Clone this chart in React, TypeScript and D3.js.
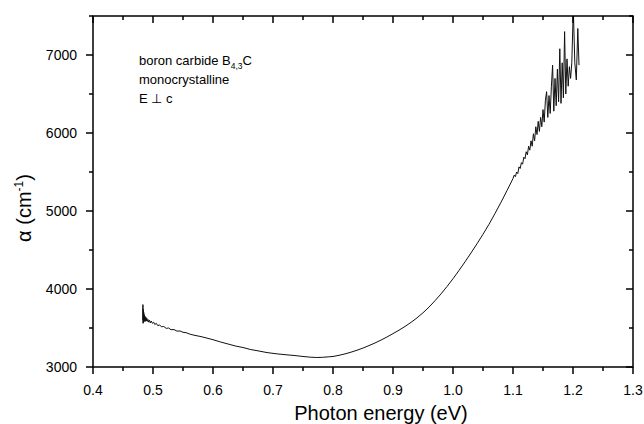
import React from "react";
import * as d3 from "d3";

// Photon energy (eV) and absorption coefficient alpha (cm^-1)
const energyEv = [
  0.483, 0.4832, 0.4835, 0.4838, 0.4842, 0.4846, 0.485, 0.4855, 0.486, 0.4866,
  0.4872, 0.488, 0.4888, 0.4896, 0.4905, 0.4915, 0.4925, 0.494, 0.4955, 0.497,
  0.499, 0.501, 0.503, 0.5055, 0.508, 0.511, 0.514, 0.518, 0.522, 0.526,
  0.53, 0.535, 0.54, 0.545, 0.55, 0.555, 0.562, 0.57, 0.58, 0.59,
  0.6, 0.612, 0.625, 0.638, 0.65, 0.662, 0.675, 0.69, 0.705, 0.72,
  0.735, 0.75, 0.762, 0.772, 0.782, 0.792, 0.8, 0.81, 0.82, 0.83,
  0.84, 0.85, 0.86, 0.87, 0.88, 0.89, 0.9, 0.91, 0.92, 0.93,
  0.94, 0.95, 0.96, 0.97, 0.98, 0.99, 1.0, 1.01, 1.02, 1.03,
  1.04, 1.05, 1.06, 1.07, 1.08, 1.09,
  1.1, 1.102, 1.104, 1.106, 1.108, 1.11, 1.112, 1.114, 1.116, 1.118,
  1.12, 1.122, 1.124, 1.126, 1.128, 1.13, 1.132, 1.134, 1.136, 1.138,
  1.14, 1.142, 1.144, 1.146, 1.148, 1.15, 1.152, 1.154, 1.156, 1.158,
  1.16, 1.162, 1.164, 1.166, 1.168, 1.17, 1.172, 1.174, 1.176, 1.178,
  1.18, 1.182, 1.184, 1.186, 1.188, 1.19, 1.192, 1.194, 1.196, 1.198,
  1.2005, 1.203, 1.2055, 1.208, 1.21,
];

const alphaCm = [
  3600, 3800, 3560, 3740, 3570, 3700, 3580, 3670, 3590, 3650,
  3585, 3640, 3590, 3625, 3585, 3610, 3575, 3600, 3565, 3590,
  3560, 3575, 3545, 3560, 3530, 3540, 3515, 3520, 3495, 3500,
  3478, 3480, 3460, 3462, 3445, 3440, 3420, 3405, 3390, 3370,
  3350, 3322, 3295, 3268, 3250, 3225, 3207, 3185, 3170, 3158,
  3148, 3135, 3126, 3122, 3124, 3130, 3135, 3150, 3168, 3190,
  3215, 3243, 3275, 3308, 3345, 3385, 3428, 3472, 3520, 3572,
  3630, 3695, 3768, 3850, 3937, 4032, 4132, 4238, 4348, 4462,
  4580, 4702, 4830, 4968, 5112, 5262,
  5416, 5460, 5440, 5500, 5480, 5566, 5545, 5620, 5600, 5690,
  5670, 5760, 5720, 5830, 5780, 5900, 5830, 5990, 5900, 6080,
  5980, 6150, 6020, 6200, 6080, 6300, 6140, 6420, 6530, 6200,
  6480, 6250, 6600, 6870, 6280, 6700, 6350, 6820, 6400, 7080,
  6380, 6900, 6450, 7300, 6500, 6950, 6600, 6850, 6700, 6900,
  7600, 6900, 6680, 7340, 6870,
];

const xMajorTicks = [0.4, 0.5, 0.6, 0.7, 0.8, 0.9, 1.0, 1.1, 1.2, 1.3];
const xMinorTicks = [0.45, 0.55, 0.65, 0.75, 0.85, 0.95, 1.05, 1.15, 1.25];
const yMajorTicks = [3000, 4000, 5000, 6000, 7000];
const yMinorTicks = [3500, 4500, 5500, 6500, 7500];

const width = 644;
const height = 424;
const marginLeft = 93;
const marginRight = 11;
const marginTop = 16;
const marginBottom = 57;

const font = "Liberation Sans, Arial, Helvetica, sans-serif";

export default function App() {
  const x = d3
    .scaleLinear()
    .domain([0.4, 1.3])
    .range([marginLeft, width - marginRight]);
  const y = d3
    .scaleLinear()
    .domain([3000, 7500])
    .range([height - marginBottom, marginTop]);

  const points = energyEv.map((e, i) => [e, alphaCm[i]] as [number, number]);
  const line = d3
    .line<[number, number]>()
    .x(d => x(d[0]))
    .y(d => y(d[1]));

  const x0 = x.range()[0];
  const x1 = x.range()[1];
  const y0 = y.range()[0];
  const y1 = y.range()[1];
  const major = 7;
  const minor = 4;

  return (
    <svg width={width} height={height} style={{ display: "block" }}>
      <style>{"body{margin:0}"}</style>
      <rect width={width} height={height} fill="#fff" />
      <defs>
        <clipPath id="plot">
          <rect x={x0} y={y1} width={x1 - x0} height={y0 - y1} />
        </clipPath>
      </defs>

      {/* curve */}
      <path
        d={line(points) ?? ""}
        fill="none"
        stroke="#111"
        strokeWidth={1}
        clipPath="url(#plot)"
      />

      {/* frame */}
      <rect
        x={x0}
        y={y1}
        width={x1 - x0}
        height={y0 - y1}
        fill="none"
        stroke="#000"
        strokeWidth={1.5}
      />

      {/* ticks: outward on bottom/left, inward on top/right */}
      <g stroke="#000" strokeWidth={1.5}>
        {xMajorTicks.map(t => (
          <g key={"xM" + t}>
            <line x1={x(t)} x2={x(t)} y1={y0} y2={y0 + major} />
            <line x1={x(t)} x2={x(t)} y1={y1} y2={y1 + major} />
          </g>
        ))}
        {xMinorTicks.map(t => (
          <g key={"xm" + t}>
            <line x1={x(t)} x2={x(t)} y1={y0} y2={y0 + minor} />
            <line x1={x(t)} x2={x(t)} y1={y1} y2={y1 + minor} />
          </g>
        ))}
        {yMajorTicks.map(t => (
          <g key={"yM" + t}>
            <line x1={x0 - major} x2={x0} y1={y(t)} y2={y(t)} />
            <line x1={x1 - major} x2={x1} y1={y(t)} y2={y(t)} />
          </g>
        ))}
        {yMinorTicks.map(t => (
          <g key={"ym" + t}>
            <line x1={x0 - minor} x2={x0} y1={y(t)} y2={y(t)} />
            <line x1={x1 - minor} x2={x1} y1={y(t)} y2={y(t)} />
          </g>
        ))}
      </g>

      {/* tick labels */}
      <g fontFamily={font} fontSize={14} fill="#000">
        {xMajorTicks.map(t => (
          <text key={"xl" + t} x={x(t)} y={y0 + 28} textAnchor="middle">
            {d3.format(".1f")(t)}
          </text>
        ))}
        {yMajorTicks.map(t => (
          <text
            key={"yl" + t}
            x={x0 - 16}
            y={y(t)}
            dy="0.36em"
            textAnchor="end"
          >
            {t}
          </text>
        ))}
      </g>

      {/* axis titles */}
      <text
        x={381}
        y={420}
        textAnchor="middle"
        fontFamily={font}
        fontSize={20}
      >
        Photon energy (eV)
      </text>
      <text
        transform="translate(31,208) rotate(-90)"
        textAnchor="middle"
        fontFamily={font}
        fontSize={20}
      >
        α (cm
        <tspan dy="-8" fontSize={12}>
          -1
        </tspan>
        <tspan dy="8">)</tspan>
      </text>

      {/* annotation */}
      <g fontFamily={font} fontSize={13} fill="#000">
        <text x={139} y={65}>
          boron carbide B
          <tspan dy="4" fontSize={8.5}>
            4,3
          </tspan>
          <tspan dy="-4">C</tspan>
        </text>
        <text x={139} y={84}>
          monocrystalline
        </text>
        <text x={139} y={103}>
          E ⊥ c
        </text>
      </g>
    </svg>
  );
}
